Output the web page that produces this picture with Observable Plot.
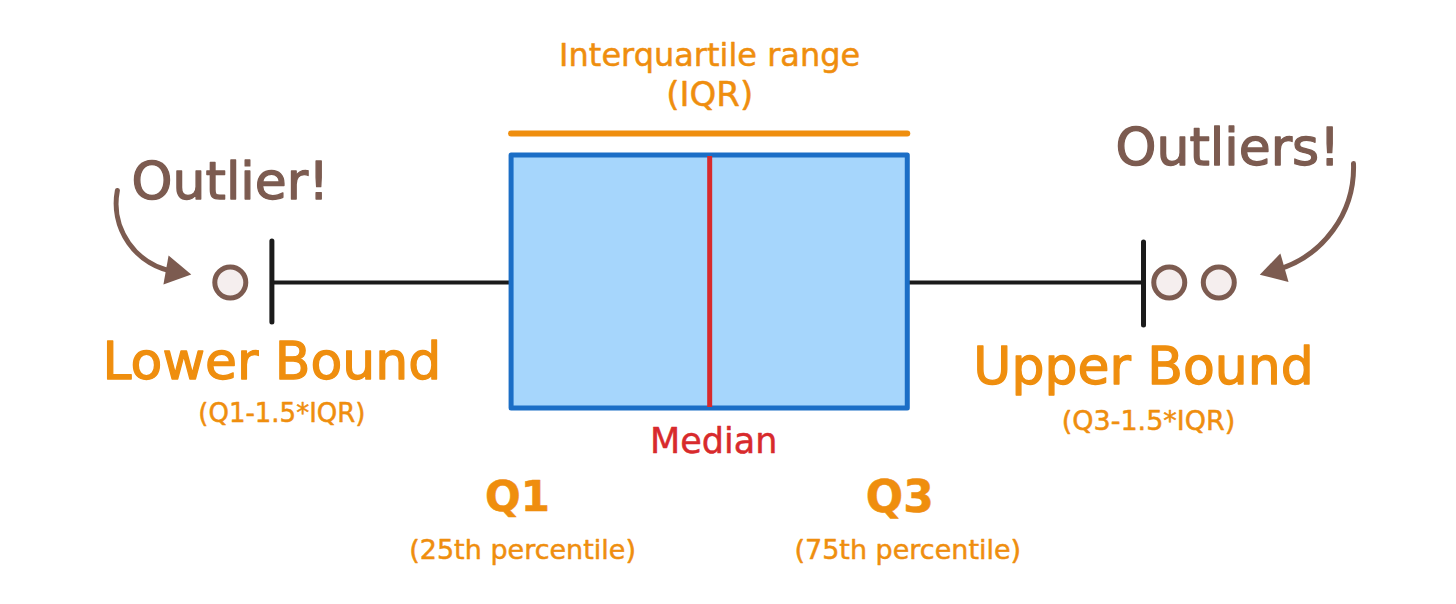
<!DOCTYPE html>
<html><head><meta charset="utf-8">
<script src="https://cdn.jsdelivr.net/npm/d3@7"></script>
<script src="https://cdn.jsdelivr.net/npm/@observablehq/plot@0.6"></script>
<style>
html,body{margin:0;padding:0;background:#fff;}
#chart svg{display:block;background:#fff;}
</style></head><body><div id="chart"></div>
<script>
// ---- data ----
const statNames = ["Lower Bound", "Q1", "Median", "Q3", "Upper Bound"];
const statValues = [12.9, 25, 35, 45, 56.9];
const outlierValues = [10.8, 58.2, 60.7];
const iqrLines = ["Interquartile range", "(IQR)"];
const boundNotes = ["(Q1-1.5*IQR)", "(Q3-1.5*IQR)"];
const quartileNotes = ["(25th percentile)", "(75th percentile)"];
const outlierCallouts = ["Outlier!", "Outliers!"];

const [lo, q1, med, q3, hi] = statValues;
const box = [{lo, q1, med, q3, hi}];

const orange = "#ef8e0e", brown = "#7c5b50", red = "#d82a2c", blue = "#1b6ec6", fillBlue = "#a6d6fc", ink = "#1b1b1b";
const font = "DejaVu Sans, sans-serif";
const big = (c) => ({fill: c, stroke: c, strokeWidth: 1.3, lineAnchor: "middle"});
const small = (c) => ({fill: c, stroke: c, strokeWidth: 0.5, lineAnchor: "middle"});

const chart = Plot.plot({
  width: 1456, height: 604, margin: 0,
  style: {fontFamily: font, background: "#fff"},
  x: {domain: [-0.8, 72.7], axis: null},
  y: {domain: [0, 604], range: [0, 604], axis: null},
  marks: [
    // IQR bar
    Plot.ruleY(box, {x1: "q1", x2: "q3", y: 133, stroke: orange, strokeWidth: 6, strokeLinecap: "round"}),
    // whiskers
    Plot.ruleY(box, {x1: "lo", x2: "q1", y: 282, stroke: ink, strokeWidth: 4}),
    Plot.ruleY(box, {x1: "q3", x2: "hi", y: 282, stroke: ink, strokeWidth: 4}),
    Plot.ruleX(box, {x: "lo", y1: 241, y2: 322, stroke: ink, strokeWidth: 5, strokeLinecap: "round"}),
    Plot.ruleX(box, {x: "hi", y1: 242, y2: 325, stroke: ink, strokeWidth: 5, strokeLinecap: "round"}),
    // box
    Plot.rect(box, {x1: "q1", x2: "q3", y1: 155, y2: 408, fill: fillBlue, stroke: blue, strokeWidth: 5, strokeLinejoin: "round"}),
    Plot.ruleX(box, {x: "med", y1: 156, y2: 407, stroke: red, strokeWidth: 5}),
    // outliers
    Plot.dot(outlierValues, {x: d => d, y: 282, r: 15.5, fill: "#f5eeee", stroke: brown, strokeWidth: 5}),
    // arrows
    Plot.arrow([outlierValues[0]], {x1: d => d - 5.7, y1: 190, x2: d => d - 2.82, y2: 271, bend: -46, headLength: 0, stroke: brown, strokeWidth: 5, strokeLinecap: "round"}),
    Plot.dot([outlierValues[0]], {x: d => d - 2.82, y: 271, symbol: "triangle", r: 11, fill: brown, rotate: 100}),
    Plot.arrow([outlierValues[2]], {x1: d => d + 6.8, y1: 163, x2: d => d + 2.9, y2: 269.5, bend: 38, headLength: 0, stroke: brown, strokeWidth: 5, strokeLinecap: "round"}),
    Plot.dot([outlierValues[2]], {x: d => d + 2.9, y: 269.5, symbol: "triangle", r: 11, fill: brown, rotate: 254}),
    // texts
    Plot.text([iqrLines[0]], {x: () => (q1 + q3) / 2, y: 55, fontSize: 32, ...small(orange)}),
    Plot.text([iqrLines[1]], {x: () => (q1 + q3) / 2, y: 95, fontSize: 34, ...small(orange)}),
    Plot.text([outlierCallouts[0]], {x: () => outlierValues[0], y: 182, fontSize: 52, ...big(brown)}),
    Plot.text([outlierCallouts[1]], {x: () => outlierValues[2], dx: 9, y: 148, fontSize: 52, ...big(brown)}),
    Plot.text([statNames[0]], {x: () => lo, y: 362, fontSize: 52, ...big(orange)}),
    Plot.text([boundNotes[0]], {x: () => lo, dx: 10, y: 413, fontSize: 26, ...small(orange)}),
    Plot.text([statNames[4]], {x: () => hi, y: 367, fontSize: 52, ...big(orange)}),
    Plot.text([boundNotes[1]], {x: () => hi, dx: 5, y: 421, fontSize: 27, ...small(orange)}),
    Plot.text([statNames[2]], {x: () => med, dx: 4, y: 441, fontSize: 35, ...small(red)}),
    Plot.text([statNames[1]], {x: () => q1, dx: 6, y: 497, fontSize: 42, fontWeight: "bold", ...small(orange)}),
    Plot.text([quartileNotes[0]], {x: () => q1, dx: 11, y: 550, fontSize: 27, ...small(orange)}),
    Plot.text([statNames[3]], {x: () => q3, dx: -8, y: 497, fontSize: 44, fontWeight: "bold", ...small(orange)}),
    Plot.text([quartileNotes[1]], {x: () => q3, y: 550, fontSize: 27, ...small(orange)})
  ]
});
document.getElementById("chart").appendChild(chart);
</script></body></html>
